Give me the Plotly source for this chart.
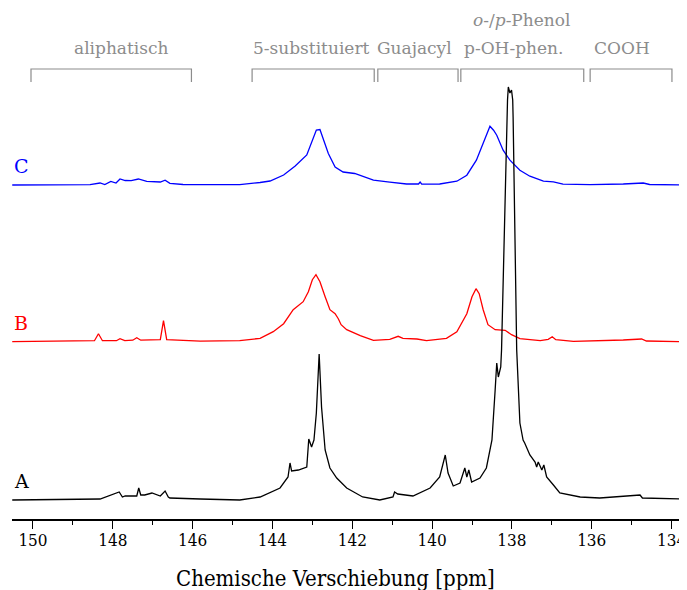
import plotly.graph_objects as go

# ---- data: chemical shift (ppm) and intensity ----
ppm_A = [150.52, 149.51, 148.32, 147.84, 147.76, 147.69, 147.40, 147.35, 147.30, 147.20,
         147.02, 146.81, 146.69, 146.61, 146.57, 145.81, 144.82, 144.31, 143.81, 143.61,
         143.56, 143.52, 143.35, 143.14, 143.09, 143.02, 142.96, 142.90, 142.83, 142.77,
         142.68, 142.56, 142.39, 142.14, 141.74, 141.31, 140.98, 140.94, 140.86, 140.48,
         140.05, 139.81, 139.67, 139.60, 139.47, 139.30, 139.18, 139.13, 139.08, 139.01,
         138.80, 138.64, 138.50, 138.42, 138.38, 138.34, 138.28, 138.26, 138.22, 138.17,
         138.13, 138.11, 138.09, 138.05, 138.01, 137.98, 137.97, 137.93, 137.88, 137.80,
         137.72, 137.68, 137.55, 137.42, 137.38, 137.34, 137.25, 137.20, 137.13, 136.96,
         136.80, 136.29, 135.80, 134.79, 134.73, 133.62]
int_A = [0, 0.5, 1, 8, 3, 4, 4, 12, 5, 5,
         7, 4, 9, 3, 2, 1, 0, 3, 12, 23,
         37, 29, 30, 33, 61, 53, 60, 87, 146, 93,
         50, 32, 22, 12, 3, 0, 3, 8, 6, 4,
         12, 23, 45, 27, 14, 17, 32, 23, 30, 18,
         22, 32, 60, 110, 137, 123, 133, 150, 213, 320,
         370, 400, 413, 407, 410, 400, 383, 260, 150, 77,
         60, 57, 45, 38, 33, 38, 30, 35, 23, 15,
         7, 3, 2, 5, 2, 1]

ppm_B = [150.52, 148.46, 148.36, 148.26, 147.91, 147.82, 147.70, 147.50, 147.40, 147.30,
         146.81, 146.73, 146.65, 145.81, 144.82, 144.31, 143.98, 143.72, 143.48, 143.23,
         143.10, 143.00, 142.91, 142.81, 142.68, 142.56, 142.43, 142.35, 142.28, 142.14,
         141.80, 141.47, 141.06, 140.85, 140.73, 140.38, 140.14, 139.64, 139.38, 139.13,
         139.00, 138.90, 138.82, 138.72, 138.60, 138.42, 138.17, 138.01, 137.80, 137.29,
         137.09, 136.99, 136.90, 136.46, 135.21, 134.75, 134.63, 133.62]
int_B = [0, 1, 8, 1, 1, 3, 1, 1.5, 4, 1.5,
         2, 21, 2, 0.5, 1, 3.4, 10, 18, 32, 40,
         50, 62, 67, 60, 45, 32, 28, 23, 17, 12,
         6, 1.4, 2.4, 5.4, 3.4, 2.7, 1, 3.4, 10, 28,
         45, 53, 48, 32, 17, 12, 11.4, 7, 3, 1,
         2.4, 5, 2, 0.4, 1.7, 2.7, 0.7, 0]

ppm_C = [150.52, 148.57, 148.32, 148.20, 148.05, 147.92, 147.82, 147.69, 147.54, 147.36,
         147.15, 146.81, 146.69, 146.57, 146.24, 144.82, 144.31, 144.06, 143.72, 143.43,
         143.14, 143.02, 142.90, 142.81, 142.73, 142.60, 142.43, 142.23, 141.94, 141.72,
         141.47, 141.06, 140.64, 140.34, 140.30, 140.26, 139.81, 139.38, 139.13, 138.89,
         138.68, 138.60, 138.55, 138.46, 138.38, 138.22, 138.05, 137.80, 137.55, 137.21,
         136.96, 136.72, 136.04, 135.21, 134.71, 134.55, 133.62]
int_C = [0, 0.3, 2, 0.5, 3.6, 2, 6, 4.5, 4.3, 6,
         3.6, 3, 4.8, 1.6, 0.5, 0.3, 2.5, 4, 10, 19,
         30, 43, 55, 55.5, 46.5, 31.5, 18, 13, 11.5, 8,
         4.8, 2.8, 1, 1, 3, 0.8, 1, 3.8, 9.8, 24.8,
         46.5, 53, 58.8, 54.8, 49.8, 34.8, 24.8, 14.8, 8.8, 3.8,
         3.1, 0.8, 0.3, 1, 2, 0.5, 0]

sample_labels = ["A", "B", "C"]

region_names = ["aliphatisch", "5-substituiert", "Guajacyl", "p-OH-phen.", "COOH"]
region_start = [150.05, 144.51, 141.36, 139.28, 136.04]
region_end = [146.03, 141.45, 139.35, 136.20, 133.99]

tick_vals = [150, 148, 146, 144, 142, 140, 138, 136, 134]
x_title = "Chemische Verschiebung [ppm]"

# ---- styling / layout constants ----
FONT = "DejaVu Serif Condensed, DejaVu Serif, serif"
FONT_LBL = "DejaVu Serif, serif"
GREY = "#8c8c8c"
offsets = {"A": 19, "B": 177.3, "C": 334}
colors = {"A": "black", "B": "#ff0000", "C": "#0000ff"}
series = {"A": (ppm_A, int_A), "B": (ppm_B, int_B), "C": (ppm_C, int_C)}

fig = go.Figure()
for name in ["C", "B", "A"]:
    xs, ys = series[name]
    fig.add_trace(go.Scatter(
        x=xs, y=[v + offsets[name] for v in ys], mode="lines",
        line=dict(color=colors[name], width=1.3), showlegend=False, hoverinfo="skip"))
    fig.add_annotation(x=150.30, y=offsets[name] + 19, text=name, showarrow=False,
                       font=dict(family=FONT_LBL, size=19, color=colors[name]),
                       xanchor="center", yanchor="middle")

# region brackets
bracket_top, bracket_bottom = 450, 437
for s, e in zip(region_start, region_end):
    fig.add_shape(type="path",
                  path=f"M {s} {bracket_bottom} L {s} {bracket_top} L {e} {bracket_top} L {e} {bracket_bottom}",
                  line=dict(color=GREY, width=1.2))

label_x = [147.80, 143.02, 140.45, 137.95, 135.23]
for name, lx in zip(region_names, label_x):
    fig.add_annotation(x=lx, y=471, text=name, showarrow=False,
                       font=dict(family=FONT_LBL, size=17, color=GREY),
                       xanchor="center", yanchor="middle")
fig.add_annotation(x=137.77, y=499, text="<i>o</i>-/<i>p</i>-Phenol", showarrow=False,
                   font=dict(family=FONT_LBL, size=17, color=GREY),
                   xanchor="center", yanchor="middle")

# axis title (placed below the axis in paper coordinates)
fig.add_annotation(x=142.41, xref="x", y=-0.1155, yref="paper", text=x_title, showarrow=False,
                   font=dict(family=FONT, size=22, color="black"),
                   xanchor="center", yanchor="middle")

fig.update_layout(
    width=687, height=590,
    margin=dict(l=4, r=8, t=0, b=79),
    plot_bgcolor="white", paper_bgcolor="white",
    xaxis=dict(range=[150.526, 133.613], tickvals=tick_vals,
               ticks="outside", ticklen=8, tickwidth=1.3, tickcolor="black",
               minor=dict(dtick=1, ticks="outside", ticklen=4, tickwidth=1.3, tickcolor="black"),
               showline=True, linecolor="black", linewidth=1.5, showgrid=False, zeroline=False,
               ticklabeloverflow="allow", ticklabelstandoff=-3,
               tickfont=dict(family=FONT, size=17, color="black")),
    yaxis=dict(range=[0, 511], visible=False, showgrid=False, zeroline=False),
)

fig.write_html("out.html")
